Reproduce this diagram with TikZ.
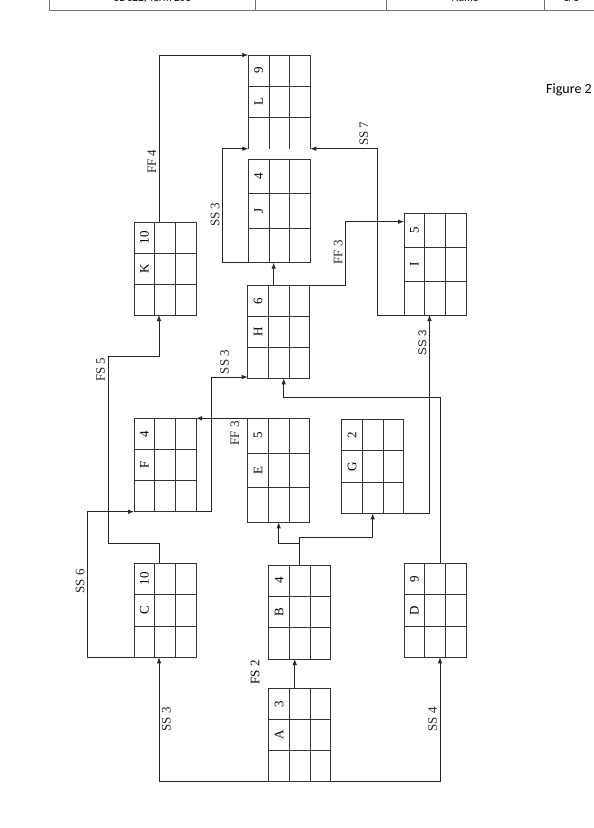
\documentclass[tikz,border=0pt]{standalone}
\usepackage{fontspec}
\setmainfont{Liberation Serif}
\newfontfamily\sansfont{Liberation Sans}
\newfontfamily\figfont{Carlito}
\usepackage{tikz}
\usetikzlibrary{positioning,calc,arrows.meta}

% activity box: [style]{name}{left}{top}{height}{letter}{duration}
\newcommand{\activity}[7][actbox]{%
  \node[#1, minimum height=#5pt, anchor=north west] (#2) at (#3,#4) {};
  \draw[cellline] ($(#2.north west)!1/3!(#2.north east)$) -- ($(#2.south west)!1/3!(#2.south east)$);
  \draw[cellline] ($(#2.north west)!2/3!(#2.north east)$) -- ($(#2.south west)!2/3!(#2.south east)$);
  \draw[cellline] ($(#2.north west)!1/3!(#2.south west)$) -- ($(#2.north east)!1/3!(#2.south east)$);
  \draw[cellline] ($(#2.north west)!2/3!(#2.south west)$) -- ($(#2.north east)!2/3!(#2.south east)$);
  \node[txt] (#2-name) at ($(#2.west)!1/6!(#2.east)$) {#6};
  \node[txt] (#2-dur) at ($(#2.north west)+(10.33,{#5/6})$) {#7};
}

\begin{document}
\begin{tikzpicture}[x=1pt, y=-1pt,
    boxline/.style={draw=black!80, line width=0.8pt},
    actbox/.style={boxline, rectangle, minimum width=62pt, inner sep=0pt, outer sep=0pt},
    openbox/.style={actbox, draw=none},
    cellline/.style={black!80, line width=0.8pt},
    txt/.style={rotate=90, inner sep=0pt, font=\fontsize{13}{15}\selectfont},
    lab/.style={rotate=90, inner sep=2.5pt, font=\fontsize{13}{15}\selectfont},
    labsans/.style={lab, font=\sansfont\fontsize{11.5}{13}\selectfont},
    flow/.style={black!85, line width=0.8pt, -{Latex[length=6pt,width=4.5pt]}},
    hdr/.style={anchor=base, inner sep=0pt, font=\figfont\fontsize{11}{13}\selectfont}]
    \useasboundingbox (0,0) rectangle (594,828);

    % Page header (cut off)
    \draw[black!55, line width=0.8pt] (49.5,-5) -- (49.5,10.3) -- (600,10.3);
    \foreach \hx in {255.5,386,544.3}
        \draw[black!55, line width=0.8pt] (\hx,-5) -- (\hx,10.3);
    \node[hdr] (hdr1) at (152.5,1.5) {SE 322, Term 201};
    \node[hdr] (hdr3) at (465,1.5) {Name};
    \node[hdr] (hdr4) at (571,1.5) {1/1};

    \node[font=\figfont\fontsize{14}{16}\selectfont] (fig) at (569,89.5) {Figure 2};

    % Activities
    \activity[openbox]{L}{248.3}{55}{93.7}{L}{9}
    \draw[boxline] (L.south west) -- (L.north west) -- (L.north east) -- (L.south east);
    \activity{J}{248.3}{159}{103.7}{J}{4}
    \activity{K}{134}{222}{93}{K}{10}
    \activity{H}{247.7}{285.7}{92.6}{H}{6}
    \activity{I}{404}{213.7}{101.3}{I}{5}
    \activity{F}{134}{418.3}{93.4}{F}{4}
    \activity{E}{247.7}{418.3}{104}{E}{5}
    \activity{G}{341.7}{419.3}{94}{G}{2}
    \activity{C}{134}{563.3}{94}{C}{10}
    \activity{B}{268.7}{565}{94}{B}{4}
    \activity{D}{404}{563.3}{94}{D}{9}
    \activity{A}{268.7}{688.3}{93.4}{A}{3}

    % Links from A
    \draw[flow] (A.south west) -| node[lab, pos=.75, anchor=north] (ac) {SS 3} ([xshift=-6pt]C.south);
    \draw[flow] (A.south east) -| node[lab, pos=.75, anchor=south] (ad) {SS 4} ([xshift=5pt]D.south);
    \coordinate (ab) at ([xshift=-5pt]A.north);
    \draw[flow] (ab) -- (ab |- B.south);
    \node[lab] (abl) at ($(A.north west)+(-13.5,-16)$) {FS 2};

    % Links from B, C, D
    \draw[flow] (B.north) -- ++(0,-21.7) -| (E.south);
    \draw[flow] (B.north) -- ++(0,-27.3) -| (G.south);
    \draw[flow] (C.south west) -- ++(-46.7,0) |- node[lab, pos=.26, anchor=south] (cf) {SS 6} (F.south west);
    \draw[flow] ([xshift=-6pt]C.north) -- ++(0,-20) -- ++(-51,0)
        -- node[lab, pos=.93, anchor=south] (ck) {FS 5} ++(0,-186.6) -| ([xshift=-6pt]K.south);
    \draw[flow] ([xshift=5pt]D.north) -- ++(0,-165.6) -| ([xshift=5pt]H.south);

    % Links from E, F, G
    \draw[flow] (E.north) -- node[lab, pos=.53, anchor=east] (ef) {FF 3} (F.north east);
    \draw[flow] (F.south east) -- ++(15.7,0) |- node[lab, pos=.68, anchor=west] (fh) {SS 3} ([yshift=1.3pt]H.south west);
    \draw[flow] (G.south east) -| node[labsans, pos=.93, anchor=south] (gi) {SS 3} ([xshift=-5.5pt]I.south);

    % Links from H, I, J, K
    \coordinate (hj) at ([xshift=-5pt]H.north);
    \draw[flow] (hj) -- (hj |- J.south);
    \draw[flow] (H.north east) -- ++(35.7,0) |- node[lab, pos=.26, anchor=south] (hi) {FF 3} ([yshift=-8pt]I.north west);
    \draw[flow] (I.south west) -- ++(-26.7,0) |- node[lab, pos=.6, anchor=west] (il) {SS 7} (L.south east);
    \draw[flow] (J.south west) -- ++(-26,0) |- node[lab, pos=.21, anchor=south] (jl) {SS 3} (L.south west);
    \draw[flow] ([xshift=-6pt]K.north) |- node[lab, pos=.18, anchor=south] (kl) {FF 4} (L.north west);
\end{tikzpicture}
\end{document}
